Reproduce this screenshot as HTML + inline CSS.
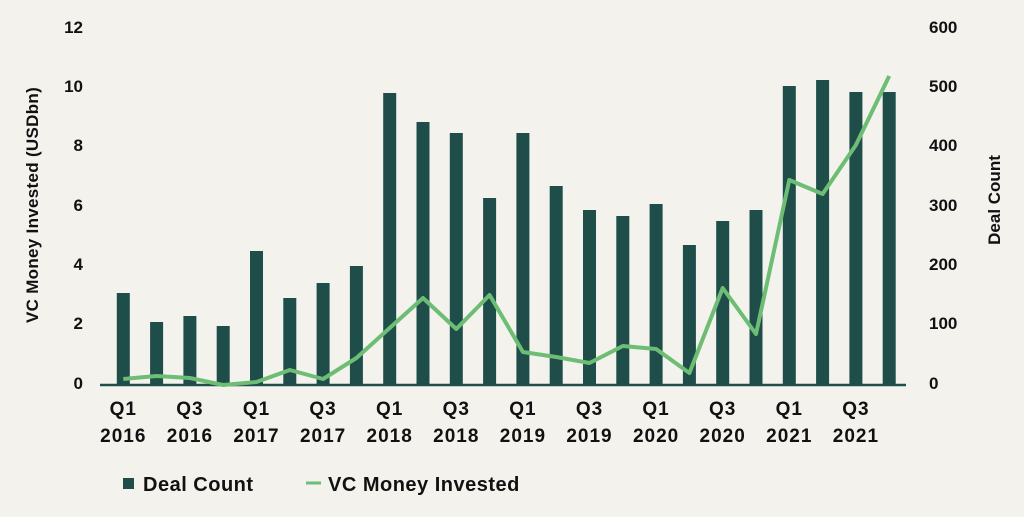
<!DOCTYPE html>
<html><head><style>
body{margin:0;background:#f3f2ed;}
text{font-family:"Liberation Sans",sans-serif;font-weight:bold;fill:#111;}
</style></head><body>
<svg width="1024" height="512" viewBox="0 0 1024 512" xmlns="http://www.w3.org/2000/svg">
<rect width="1024" height="512" fill="#f3f2ed"/>
<g font-size="17" text-anchor="end">
<text x="83" y="33">12</text><text x="83" y="92">10</text><text x="83" y="151">8</text>
<text x="83" y="211">6</text><text x="83" y="270">4</text><text x="83" y="329">2</text><text x="83" y="389">0</text>
</g>
<g font-size="17" text-anchor="start">
<text x="929" y="33">600</text><text x="929" y="92">500</text><text x="929" y="151">400</text>
<text x="929" y="211">300</text><text x="929" y="270">200</text><text x="929" y="329">100</text><text x="929" y="389">0</text>
</g>
<text transform="translate(38,205) rotate(-90)" font-size="17" text-anchor="middle" letter-spacing="0.3">VC Money Invested (USDbn)</text>
<text transform="translate(1000,200) rotate(-90)" font-size="17" text-anchor="middle">Deal Count</text>
<g fill="#1f4d4a" id="bars"></g>
<line x1="100" y1="385" x2="906" y2="385" stroke="#1f4d4a" stroke-width="2.5"/>
<polyline id="ln" fill="none" stroke="#6dbd74" stroke-width="4" stroke-linejoin="round"/>
<g font-size="19" text-anchor="middle" letter-spacing="1" id="lbl"></g>
<rect x="123" y="478" width="11" height="11" fill="#1f4d4a"/>
<text x="143" y="491" font-size="20" letter-spacing="0.5">Deal Count</text>
<line x1="306" y1="483" x2="321" y2="483" stroke="#6dbd74" stroke-width="3"/>
<text x="328" y="491" font-size="20" letter-spacing="0.5">VC Money Invested</text>
<script>
var tops=[293,322,316,326,251,298,283,266,93,122,133,198,133,186,210,216,204,245,221,210,86,80,92,92];
var ly=[379,376,378,385,382,370,379,358,328,298,329,295,352,357,363,346,349,373,288,334,180,194,145,76];
var ns="http://www.w3.org/2000/svg",b=document.getElementById("bars"),pts=[],lb=document.getElementById("lbl");
for(var i=0;i<24;i++){var cx=123.3+i*33.3;
var r=document.createElementNS(ns,"rect");r.setAttribute("x",cx-6.5);r.setAttribute("y",tops[i]);r.setAttribute("width",13);r.setAttribute("height",384-tops[i]);b.appendChild(r);
pts.push(cx+","+ly[i]);
if(i%2==0){var q=document.createElementNS(ns,"text");q.setAttribute("x",cx);q.setAttribute("y",415);q.textContent=(i%4==0?"Q1":"Q3");lb.appendChild(q);
var y=document.createElementNS(ns,"text");y.setAttribute("x",cx);y.setAttribute("y",442);y.textContent=2016+Math.floor(i/4);lb.appendChild(y);}}
document.getElementById("ln").setAttribute("points",pts.join(" "));
</script>
</svg>
</body></html>
